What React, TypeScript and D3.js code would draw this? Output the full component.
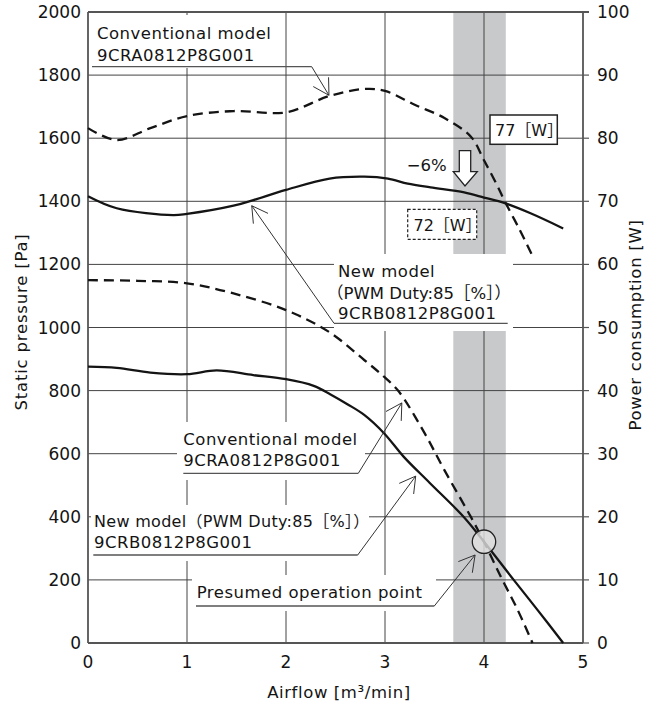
import * as d3 from 'd3';
import { useRef, useEffect } from 'react';

// axes
const airflowTicks = [0, 1, 2, 3, 4, 5];
const pressureTicks = [0, 200, 400, 600, 800, 1000, 1200, 1400, 1600, 1800, 2000];
const powerTicks = [0, 10, 20, 30, 40, 50, 60, 70, 80, 90, 100];

// power consumption [W] vs airflow [m3/min]
const convPowerFlow = [0, 0.29, 0.63, 1.0, 1.47, 2.0, 2.44, 2.79, 3.0, 3.3, 3.6, 3.87, 4.0, 4.14, 4.21, 4.36, 4.5];
const convPowerW = [81.6, 79.7, 81.6, 83.5, 84.3, 84.1, 86.7, 87.8, 87.5, 85.3, 83.2, 80.2, 76.5, 72.3, 70.0, 65.5, 61.0];
const newPowerFlow = [0, 0.29, 0.86, 1.0, 1.47, 1.67, 2.0, 2.44, 2.79, 3.03, 3.23, 3.46, 3.8, 4.0, 4.21, 4.47, 4.8];
const newPowerW = [70.8, 68.9, 67.8, 68.0, 69.3, 70.2, 71.8, 73.6, 73.9, 73.6, 72.8, 72.2, 71.4, 70.6, 69.7, 68.1, 65.7];

// static pressure [Pa] vs airflow [m3/min]
const convPqFlow = [0, 0.5, 1.0, 1.47, 2.0, 2.43, 2.79, 2.99, 3.14, 3.4, 3.6, 3.87, 4.0, 4.17, 4.34, 4.49];
const convPqPa = [1150, 1148, 1140, 1108, 1055, 987, 897, 844, 797, 665, 548, 398, 321, 210, 105, 0];
const newPqFlow = [0, 0.29, 0.63, 1.0, 1.3, 1.67, 2.0, 2.28, 2.45, 2.62, 2.79, 2.99, 3.19, 3.45, 3.8, 4.0, 4.3, 4.54, 4.8];
const newPqPa = [876, 872, 857, 852, 864, 849, 836, 815, 788, 757, 723, 665, 590, 508, 398, 321, 200, 105, 0];

const bandFlow = [3.69, 4.22];
const operationPoint = [4.0, 321];

const FONT = "'DejaVu Sans', 'Noto Sans CJK JP', sans-serif";
const INK = '#141414';

const App = () => {
    const ref = useRef<SVGSVGElement>(null);

    useEffect(() => {
        if (!ref.current) return;
        const svg = d3.select(ref.current);
        svg.selectAll('*').remove();

        const left = 88, right = 583, top = 12, bottom = 643;
        const x = d3.scaleLinear().domain([0, 5]).range([left, right]);
        const yP = d3.scaleLinear().domain([0, 2000]).range([bottom, top]);
        const yW = d3.scaleLinear().domain([0, 100]).range([bottom, top]);

        svg.append('rect').attr('width', 662).attr('height', 706).attr('fill', '#fff');

        // shaded operating band
        svg.append('rect')
            .attr('x', x(bandFlow[0])).attr('y', top)
            .attr('width', x(bandFlow[1]) - x(bandFlow[0])).attr('height', bottom - top)
            .attr('fill', '#c8c9cb');

        // grid
        const grid = svg.append('g').attr('stroke', '#444').attr('stroke-width', 1);
        airflowTicks.slice(1, -1).forEach(t => {
            grid.append('line').attr('x1', x(t)).attr('x2', x(t)).attr('y1', top).attr('y2', bottom);
        });
        pressureTicks.slice(1, -1).forEach(t => {
            grid.append('line').attr('x1', left).attr('x2', right).attr('y1', yP(t)).attr('y2', yP(t));
        });

        // white backgrounds behind the labels
        const boxes = [
            [92, 15, 190, 53],
            [334, 254, 179, 77],
            [177, 422, 188, 58],
            [91, 505, 278, 56],
            [192, 575, 244, 36],
        ];
        boxes.forEach(([bx, by, bw, bh]) => {
            svg.append('rect').attr('x', bx).attr('y', by).attr('width', bw).attr('height', bh).attr('fill', '#fff');
        });

        // frame
        const frame = svg.append('g').attr('stroke', '#555').attr('stroke-width', 1.8).attr('fill', 'none');
        frame.append('line').attr('x1', left).attr('x2', right + 6).attr('y1', top).attr('y2', top);
        frame.append('line').attr('x1', left).attr('x2', left).attr('y1', top).attr('y2', bottom);
        frame.append('line').attr('x1', left).attr('x2', right).attr('y1', bottom).attr('y2', bottom);
        frame.append('line').attr('x1', right).attr('x2', right).attr('y1', top).attr('y2', bottom);
        powerTicks.forEach(t => {
            frame.append('line').attr('x1', right).attr('x2', right + 6).attr('y1', yW(t)).attr('y2', yW(t)).attr('stroke-width', 1.2);
        });

        // curves
        const draw = (xs: number[], ys: number[], yScale: d3.ScaleLinear<number, number>, dashed: boolean) => {
            const pts = xs.map((v, i) => [v, ys[i]] as [number, number]);
            const gen = d3.line<[number, number]>()
                .x(d => x(d[0])).y(d => yScale(d[1]))
                .curve(d3.curveCatmullRom.alpha(0.5));
            svg.append('path')
                .attr('d', gen(pts))
                .attr('fill', 'none')
                .attr('stroke', INK)
                .attr('stroke-width', 2.3)
                .attr('stroke-dasharray', dashed ? '10,6' : null);
        };
        draw(convPowerFlow, convPowerW, yW, true);
        draw(newPowerFlow, newPowerW, yW, false);
        draw(convPqFlow, convPqPa, yP, true);
        draw(newPqFlow, newPqPa, yP, false);

        // presumed operation point
        svg.append('circle')
            .attr('cx', x(operationPoint[0])).attr('cy', yP(operationPoint[1])).attr('r', 11.7)
            .attr('fill', 'rgba(225,225,225,0.8)').attr('stroke', '#222').attr('stroke-width', 1.3);

        // text helper
        const txt = (tx: number, ty: number, s: string, size: number, anchor = 'start', ls = 0) =>
            svg.append('text')
                .attr('x', tx).attr('y', ty)
                .attr('font-family', FONT).attr('font-size', size)
                .attr('text-anchor', anchor).attr('letter-spacing', ls)
                .attr('fill', INK)
                .text(s);

        pressureTicks.forEach(t => txt(81, yP(t) + 6, String(t), 17, 'end'));
        powerTicks.forEach(t => txt(597, yW(t) + 6, String(t), 17, 'start'));
        airflowTicks.forEach(t => txt(x(t), 668, String(t), 17, 'middle'));

        txt(339, 698, 'Airflow [m³/min]', 16.5, 'middle', 0.6);
        svg.append('text')
            .attr('transform', 'translate(27,322) rotate(-90)')
            .attr('font-family', FONT).attr('font-size', 16.5).attr('letter-spacing', 0.8)
            .attr('text-anchor', 'middle').attr('fill', INK)
            .text('Static pressure [Pa]');
        svg.append('text')
            .attr('transform', 'translate(641,325) rotate(-90)')
            .attr('font-family', FONT).attr('font-size', 16.5).attr('letter-spacing', 0.7)
            .attr('text-anchor', 'middle').attr('fill', INK)
            .text('Power consumption [W]');

        // annotations with leader lines
        const leader = (x1: number, y1: number, x2: number, y2: number) => {
            const g = svg.append('g').attr('stroke', '#333').attr('stroke-width', 1);
            g.append('line').attr('x1', x1).attr('y1', y1).attr('x2', x2).attr('y2', y2);
            const ang = Math.atan2(y1 - y2, x1 - x2);
            [ang - 0.52, ang + 0.52].forEach(a => {
                g.append('line').attr('x1', x2).attr('y1', y2)
                    .attr('x2', x2 + 18 * Math.cos(a)).attr('y2', y2 + 18 * Math.sin(a));
            });
        };
        const underline = (x1: number, x2: number, y: number) =>
            svg.append('line').attr('x1', x1).attr('x2', x2).attr('y1', y).attr('y2', y)
                .attr('stroke', '#555').attr('stroke-width', 1.3);

        const AS = 16.5, LS = 0.5;

        txt(97, 39.3, 'Conventional model', AS, 'start', LS);
        txt(97, 61, '9CRA0812P8G001', AS, 'start', LS);
        underline(92, 311.7, 66.7);
        leader(311.7, 66.7, x(2.434), yW(86.8));

        txt(338, 276.7, 'New model', AS, 'start', LS);
        txt(327, 299.3, '（PWM Duty:85［%］）', AS, 'start', 0);
        txt(338, 319.3, '9CRB0812P8G001', AS, 'start', LS);
        underline(334, 507.7, 323.3);
        leader(334, 323.3, x(1.654), yW(69.3));

        txt(183.3, 445, 'Conventional model', AS, 'start', LS);
        txt(183.3, 466, '9CRA0812P8G001', AS, 'start', LS);
        underline(183.3, 358.3, 473.3);
        leader(358.3, 473.3, x(3.17), yP(761));

        txt(94, 526.7, 'New model（PWM Duty:85［%］）', 16, 'start', 0.3);
        txt(94, 548.3, '9CRB0812P8G001', AS, 'start', LS);
        underline(93.3, 357.7, 555);
        leader(357.7, 555, x(3.31), yP(529));

        txt(196.7, 598.3, 'Presumed operation point', AS, 'start', LS);
        underline(196, 434.3, 606);
        leader(434.3, 606, x(3.91), yP(279));

        // 77 W / 72 W boxes and the -6% arrow
        svg.append('rect').attr('x', 490).attr('y', 115).attr('width', 67.3).attr('height', 29.3)
            .attr('fill', '#fff').attr('stroke', '#222').attr('stroke-width', 1.5);
        txt(495, 136, '77［W］', 16, 'start', 0);

        svg.append('rect').attr('x', 407.7).attr('y', 209.3).attr('width', 69).attr('height', 30)
            .attr('fill', '#fff').attr('stroke', '#222').attr('stroke-width', 1.2).attr('stroke-dasharray', '3,2');
        txt(413.5, 230.5, '72［W］', 16, 'start', 0);

        txt(446.7, 171, '−6%', AS, 'end', 0);
        svg.append('polygon')
            .attr('points', '459.3,150.7 470.7,150.7 470.7,171.7 477.3,171.7 465,186 453.3,171.7 459.3,171.7')
            .attr('fill', '#fff').attr('stroke', '#222').attr('stroke-width', 1.3);
    }, []);

    return (<svg ref={ref} width={662} height={706} style={{ position: 'absolute', left: 0, top: 0 }}></svg>);
};

export default App;
